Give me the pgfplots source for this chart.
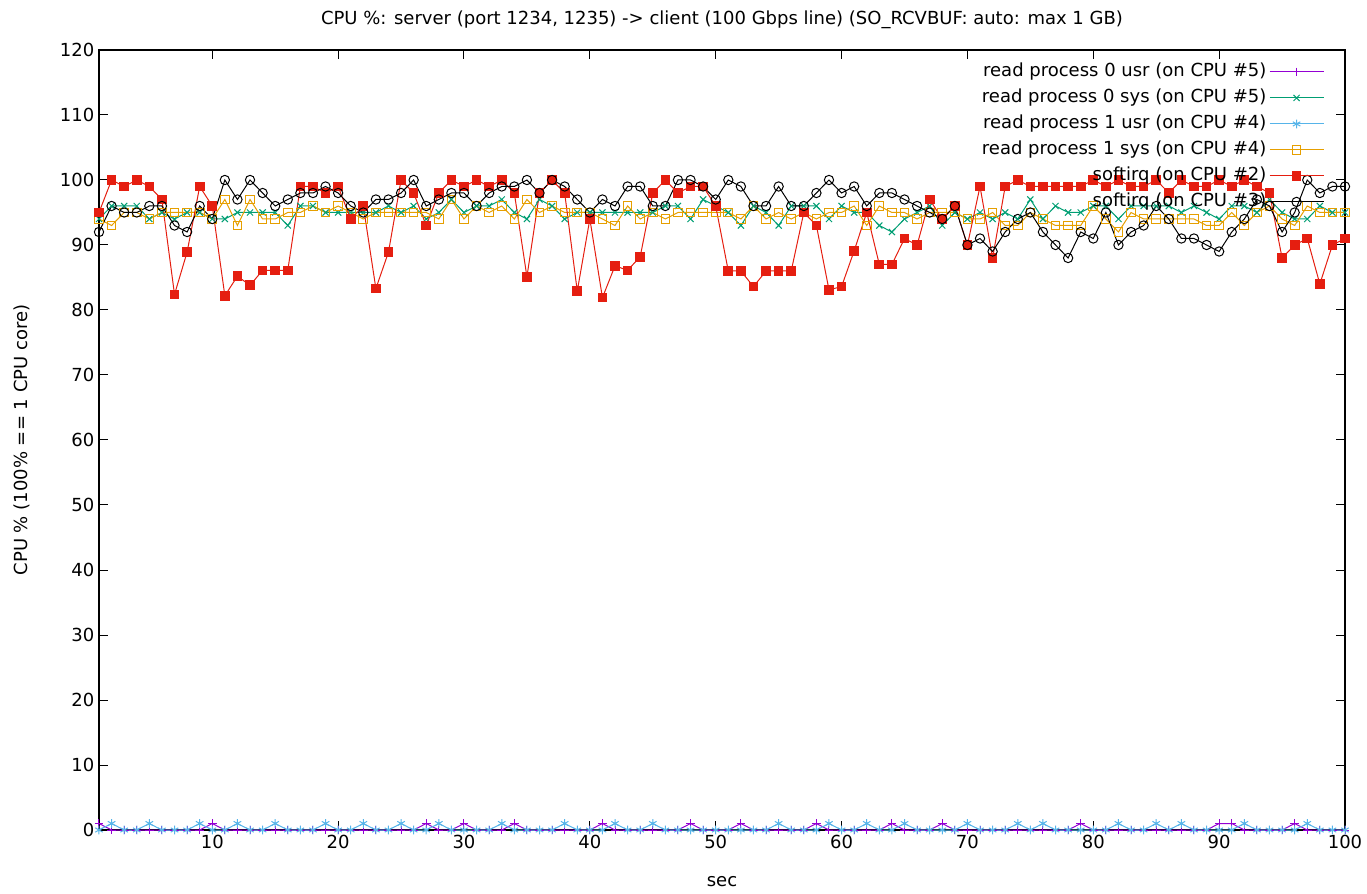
\documentclass[border=0pt]{standalone}
\usepackage{fontspec}
\setmainfont{DejaVu Sans}
\usepackage{pgfplots}
\pgfplotsset{compat=1.18}
\usepackage{pgfplotstable}

\definecolor{cViolet}{HTML}{9400D3}
\definecolor{cGreen}{HTML}{009E73}
\definecolor{cSky}{HTML}{56B4E9}
\definecolor{cOrange}{HTML}{E69F00}
\definecolor{cRed}{HTML}{E51E10}

% legend sample: a coloured line with the plot mark in its middle
\pgfplotsset{
  gpkey/.style 2 args={legend image code/.code={%
    \draw[color=#1, line width=0.75pt] (5pt,0pt) -- (45.5pt,0pt);
    \path[color=#1, line width=0.75pt, #2] plot coordinates {(25.25pt,0pt)};}},
}

% per-second CPU usage: t, proc0 usr, proc0 sys, proc1 usr, proc1 sys, softirq CPU2, softirq CPU3
\pgfplotstableread{
t u0 s0 u1 s1 c2 c3
1 1 94 0 94 95 92
2 0 96 1 93 100 96
3 0 96 0 95 99 95
4 0 96 0 95 100 95
5 0 94 1 94 99 96
6 0 95 0 95 97 96
7 0 94 0 95 82.4 93
8 0 95 0 95 88.9 92
9 0 95 1 95 99 96
10 1 94 0 94 96 94
11 0 94 0 97 82.2 100
12 0 95 1 93 85.2 97
13 0 95 0 97 83.8 100
14 0 95 0 94 86.1 98
15 0 95 1 94 86.1 96
16 0 93 0 95 86.1 97
17 0 96 0 95 99 98
18 0 96 0 96 99 98
19 0 95 1 95 98 99
20 0 95 0 96 99 98
21 0 95 0 95 94 96
22 0 95 1 94 96 95
23 0 95 0 95 83.3 97
24 0 96 0 95 88.9 97
25 0 95 1 95 100 98
26 0 96 0 95 98 100
27 1 94 0 95 93 96
28 0 95 1 94 98 97
29 0 97 0 97 100 98
30 1 95 0 94 99 98
31 0 96 0 96 100 96
32 0 96 0 95 99 98
33 0 97 1 96 100 99
34 1 95 0 94 98 99
35 0 94 0 97 85.1 100
36 0 97 0 95 98 98
37 0 96 0 96 100 100
38 0 94 1 95 98 99
39 0 95 0 95 82.9 97
40 0 95 0 95 94 95
41 1 95 0 94 81.9 97
42 0 95 1 93 86.8 96
43 0 95 0 96 86.1 99
44 0 95 0 94 88.2 99
45 0 95 1 95 98 96
46 0 96 0 94 100 96
47 0 96 0 95 98 100
48 1 94 0 95 99 100
49 0 97 0 95 99 99
50 0 96 0 95 96 97
51 0 95 0 95 86 100
52 1 93 0 94 86 99
53 0 96 0 96 83.6 96
54 0 95 0 94 86 96
55 0 93 1 95 86 99
56 0 96 0 94 86 96
57 0 96 0 95 95 96
58 1 96 0 94 93 98
59 0 94 1 95 83.1 100
60 0 96 0 95 83.6 98
61 0 95 0 96 89.1 99
62 0 95 1 93 95 96
63 0 93 0 96 87 98
64 1 92 0 95 87 98
65 0 94 1 95 91 97
66 0 95 0 94 90 96
67 0 96 0 95 97 95
68 1 93 0 95 94 94
69 0 95 0 95 96 96
70 0 94 1 94 90 90
71 0 95 0 94 99 91
72 0 94 0 95 88 89
73 0 95 0 93 99 92
74 0 94 1 93 100 94
75 0 97 0 95 99 95
76 0 94 1 94 99 92
77 0 96 0 93 99 90
78 0 95 0 93 99 88
79 1 95 0 93 99 92
80 0 96 0 96 100 91
81 0 96 0 94 99 95
82 0 94 1 92 100 90
83 0 96 0 95 99 92
84 0 96 0 94 99 93
85 0 96 1 94 100 96
86 0 96 0 94 98 94
87 0 95 1 94 100 91
88 0 96 0 94 99 91
89 0 95 0 93 99 90
90 1 94 0 93 100 89
91 1 96 0 95 99 92
92 0 96 1 93 100 94
93 0 95 0 95 99 97
94 0 97 0 96 98 96
95 0 95 0 94 88 92
96 1 94 0 93 90 95
97 0 94 1 96 91 100
98 0 96 0 95 84 98
99 0 95 0 95 90 99
100 0 95 0 95 91 99
}\cpudata

\begin{document}
\begin{tikzpicture}[font=\fontsize{13.5pt}{16pt}\selectfont]
\begin{axis}[
  name=ax,
  scale only axis,
  width=934.5pt, height=585pt,
  xmin=1, xmax=100, ymin=0, ymax=120,
  xtick={10,20,...,100}, ytick={0,10,...,120},
  tick align=inside,
  major tick length=6.75pt,
  axis line style={line width=0.9pt},
  tick style={line width=0.75pt, black},
  /pgf/number format/assume math mode=true,
  ticklabel style={font=\fontsize{13.5pt}{16pt}\selectfont},
  title={CPU \%: server (port 1234, 1235) -> client (100 Gbps line) (SO\_RCVBUF: auto: max 1 GB)},
  title style={at={(axis description cs:0.5,1.028)}, anchor=center},
  xlabel={sec},
  xlabel style={at={(axis description cs:0.5,-0.066)}, anchor=center},
  ylabel={CPU \% (100\% == 1 CPU core)},
  ylabel style={at={(axis description cs:-0.0618,0.5)}, anchor=center},
  legend cell align=right,
  legend plot pos=right,
  legend style={at={(axis description cs:1,1)}, anchor=north east,
    xshift=-12.5pt, yshift=-4.5pt, draw=none, fill=none, row sep=0pt,
    nodes={text height=10pt, text depth=3pt, inner ysep=3.25pt}},
  every axis plot/.append style={line width=0.75pt},
]
\addplot[color=cViolet, mark=+, mark size=3.25pt,
  gpkey={cViolet}{mark=+, mark size=3.25pt}] table[x=t, y=u0] {\cpudata};
\addlegendentry{read process 0 usr (on CPU \#5)}
\addplot[color=cGreen, mark=x, mark size=3.25pt,
  gpkey={cGreen}{mark=x, mark size=3.25pt}] table[x=t, y=s0] {\cpudata};
\addlegendentry{read process 0 sys (on CPU \#5)}
\addplot[color=cSky, mark=asterisk, mark size=3.25pt,
  gpkey={cSky}{mark=asterisk, mark size=3.25pt}] table[x=t, y=u1] {\cpudata};
\addlegendentry{read process 1 usr (on CPU \#4)}
\addplot[color=cOrange, mark=square, mark size=3.25pt,
  gpkey={cOrange}{mark=square, mark size=3.25pt}] table[x=t, y=s1] {\cpudata};
\addlegendentry{read process 1 sys (on CPU \#4)}
\addplot[color=cRed, mark=square*, mark size=3.25pt,
  gpkey={cRed}{mark=square*, mark size=3.25pt}] table[x=t, y=c2] {\cpudata};
\addlegendentry{softirq (on CPU \#2)}
\addplot[color=black, mark=o, mark size=3.5pt,
  gpkey={black}{mark=o, mark size=3.5pt}] table[x=t, y=c3] {\cpudata};
\addlegendentry{softirq (on CPU \#3)}
\end{axis}
\pgfresetboundingbox
\path[use as bounding box] ([shift={(-74.25pt,-47.25pt)}]ax.south west) rectangle ([shift={(16.5pt,37.5pt)}]ax.north east);
\end{tikzpicture}
\end{document}
